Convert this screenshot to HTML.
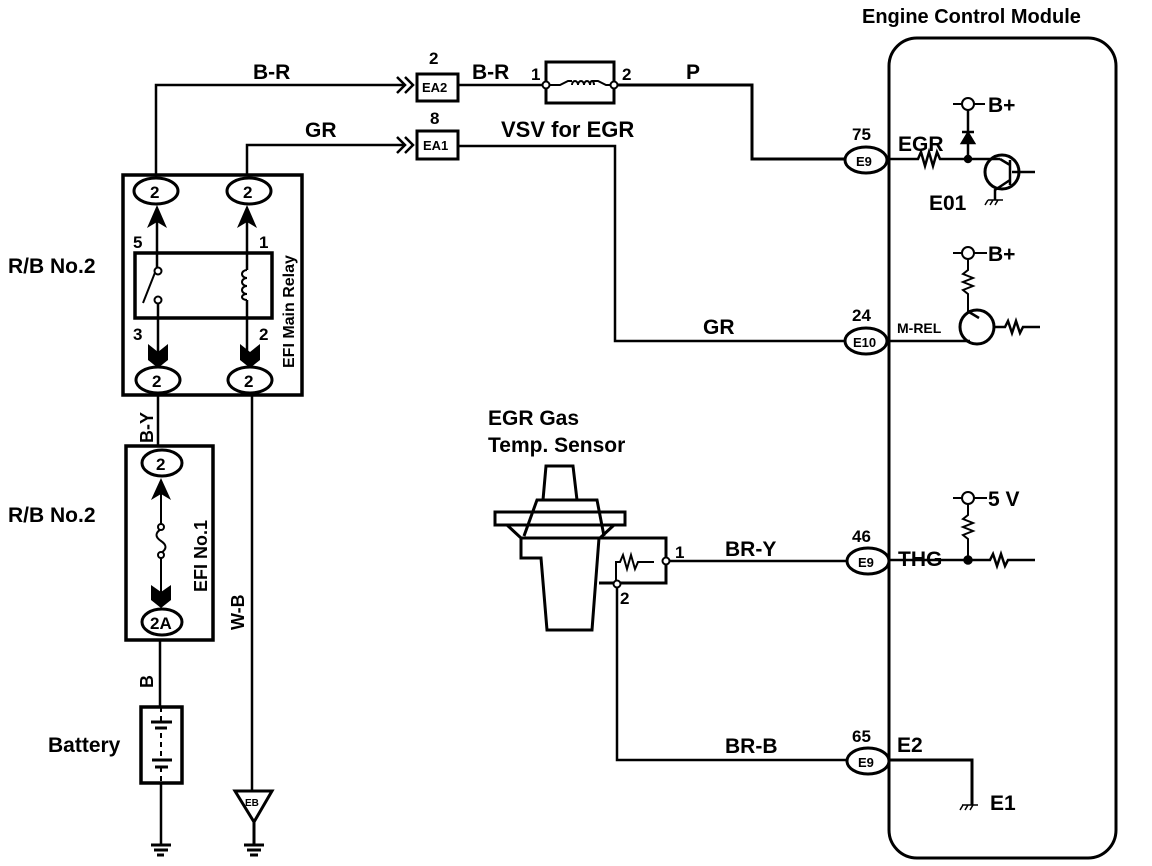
<!DOCTYPE html>
<html><head><meta charset="utf-8"><style>
html,body{margin:0;padding:0;background:#fff;}
svg{display:block;}
text{font-family:"Liberation Sans",sans-serif;font-weight:bold;fill:#000;}
</style></head><body>
<svg width="1152" height="866" viewBox="0 0 1152 866" xmlns="http://www.w3.org/2000/svg">
<g fill="none" stroke="#000" stroke-width="2.5">
<rect x="889" y="38" width="227" height="820" rx="28" stroke-width="3"/>
<path d="M156 176 V85 H405" stroke-width="2.5"/>
<path d="M397 77 l8 8 l-8 8 M405 77 l8 8 l-8 8"/>
<rect x="417" y="74" width="41" height="27" stroke-width="3"/>
<path d="M458 85 H546" stroke-width="2.5"/>
<path d="M546 85 V62 H614 V103 H546 Z" stroke-width="3"/>
<path d="M546 85 H560 l8 -4 h4 M592 81 h6 l8 4 h8" stroke-width="2"/>
<path d="M572 85 a3 4 0 0 1 6 0 a3 4 0 0 1 6 0 a3 4 0 0 1 6 0 a2 4 0 0 1 4 0" stroke-width="2"/>
<circle cx="546" cy="85" r="3.5" fill="#fff" stroke-width="2"/>
<circle cx="614" cy="85" r="3.5" fill="#fff" stroke-width="2"/>
<path d="M618 85 H752 V159 H846" stroke-width="3"/>
<ellipse cx="866" cy="160" rx="21" ry="13" stroke-width="3"/>
<path d="M247 176 V145 H405" stroke-width="2.5"/>
<path d="M397 137 l8 8 l-8 8 M405 137 l8 8 l-8 8"/>
<rect x="417" y="131" width="41" height="28" stroke-width="3"/>
<path d="M458 146 H615 V341 H846" stroke-width="2.5"/>
<ellipse cx="866" cy="341" rx="21" ry="13" stroke-width="3"/>
<rect x="123" y="175" width="179" height="220" stroke-width="3.5"/>
<ellipse cx="156" cy="191" rx="22" ry="13" stroke-width="3"/>
<ellipse cx="249" cy="191" rx="22" ry="13" stroke-width="3"/>
<ellipse cx="158" cy="380" rx="22" ry="13" stroke-width="3"/>
<ellipse cx="250" cy="380" rx="22" ry="13" stroke-width="3"/>
<rect x="135" y="253" width="137" height="65" stroke-width="3.5"/>
<path d="M157 218 V270 M158 300 V355 M247 218 V270 M247 300 V355" stroke-width="2.5"/>
<path d="M156 270 L143 303" stroke-width="2"/>
<circle cx="158" cy="271" r="3.5" fill="#fff" stroke-width="2"/>
<circle cx="158" cy="300" r="3.5" fill="#fff" stroke-width="2"/>
<path d="M247 270 a5 4 0 0 0 0 8 a5 4 0 0 0 0 8 a5 4 0 0 0 0 8 a5 3 0 0 0 0 6" stroke-width="2"/>
<path d="M158 395 V447" stroke-width="2.5"/>
<rect x="126" y="446" width="87" height="194" stroke-width="3.5"/>
<ellipse cx="162" cy="463" rx="20" ry="13" stroke-width="3"/>
<ellipse cx="162" cy="622" rx="20" ry="13" stroke-width="3"/>
<path d="M161 490 V525 M161 555 V598" stroke-width="2"/>
<path d="M161 529 c-6 4 -6 8 0 12 c6 4 6 8 0 12" stroke-width="2"/>
<circle cx="161" cy="527" r="3" fill="#fff" stroke-width="2"/>
<circle cx="161" cy="555" r="3" fill="#fff" stroke-width="2"/>
<path d="M160 640 V707 M161 783 V845" stroke-width="2.5"/>
<rect x="141" y="707" width="41" height="76" stroke-width="3.5"/>
<path d="M151 722 H172 M155 728 H167 M152 760 H172 M155 767 H168" stroke-width="3"/>
<path d="M161 707 V722 M161 733 V756 M161 767 V783" stroke-width="2" stroke-dasharray="5 4"/>
<path d="M151 845 H171 M154 850 H168 M157 855 H164" stroke-width="3"/>
<path d="M252 393 V791" stroke-width="2.5"/>
<path d="M235 791 H272 L254 822 Z" stroke-width="3"/>
<path d="M254 822 V845 M244 845 H264 M247 850 H261 M250 855 H258" stroke-width="3"/>
<path d="M543 500 L546 466 H573 L577 500 Z" stroke-width="3"/>
<path d="M524 536 L537 500 H597 L604 536" stroke-width="3"/>
<rect x="495" y="512" width="130" height="13" stroke-width="3"/>
<path d="M507 525 L521 538 H600 L614 525" stroke-width="3"/>
<path d="M521 538 V558 H541 L547 630 H592 L599 538" stroke-width="3"/>
<path d="M599 538 H666 V583 H599" stroke-width="3"/>
<path d="M616 583 V562 h4 l3 -7 l4 14 l4 -14 l4 14 l3 -7 h16" stroke-width="2"/>
<circle cx="666" cy="561" r="3.5" fill="#fff" stroke-width="2"/>
<circle cx="617" cy="584" r="3.5" fill="#fff" stroke-width="2"/>
<path d="M670 561 H846" stroke-width="2.5"/>
<path d="M617 588 V760 H846" stroke-width="2.5"/>
<ellipse cx="868" cy="561" rx="21" ry="13" stroke-width="3"/>
<ellipse cx="868" cy="761" rx="21" ry="13" stroke-width="3"/>
<path d="M889 159 H918 l3 -7 l4 14 l4 -14 l4 14 l4 -14 l3 7 H1000" stroke-width="2.5"/>
<path d="M968 159 V110" stroke-width="2.5"/>
<path d="M962 132 H974 M968 133 L962 143 H974 Z" stroke-width="2.5" fill="#000"/>
<circle cx="968" cy="104" r="6" fill="#fff" stroke-width="2"/>
<path d="M953 104 H962 M974 104 H985" stroke-width="2"/>
<circle cx="968" cy="159" r="3" fill="#000"/>
<circle cx="1002" cy="172" r="17" stroke-width="3"/>
<path d="M1010 160 V185 M1012 172 H1035 M1000 159 L1010 165 M1010 180 L995 190 V200" stroke-width="2.5"/>
<path d="M988 200 H1003 M988 200 l-3 5 M993 200 l-3 5 M998 200 l-3 5" stroke-width="1.5"/>
<circle cx="968" cy="253" r="6" fill="#fff" stroke-width="2"/>
<path d="M953 253 H962 M974 253 H987" stroke-width="2"/>
<path d="M968 259 V270 l-5 4 l10 4 l-10 4 l10 4 l-10 4 l5 4 V312" stroke-width="2"/>
<circle cx="977" cy="327" r="17" stroke-width="3"/>
<path d="M889 341 H970 M994 327 H1005 l3 -6 l4 12 l4 -12 l4 12 l3 -6 H1040 M969 312 l10 6" stroke-width="2.5"/>
<circle cx="968" cy="498" r="6" fill="#fff" stroke-width="2"/>
<path d="M953 498 H962 M974 498 H987" stroke-width="2"/>
<path d="M968 504 V515 l-5 4 l10 4 l-10 4 l10 4 l-10 4 l5 4 V560" stroke-width="2"/>
<path d="M889 560 H990 l3 -6 l4 12 l4 -12 l4 12 l3 -6 H1035" stroke-width="2.5"/>
<circle cx="968" cy="560" r="3.5" fill="#000"/>
<path d="M889 760 H972 V805" stroke-width="3"/>
<path d="M962 805 H978 M963 805 l-3 5 M968 805 l-3 5 M973 805 l-3 5" stroke-width="1.5"/>
</g>
<g fill="#000">
<path d="M147 228 L157 205 L167 228 L157 222 Z"/>
<path d="M237 228 L247 205 L257 228 L247 222 Z"/>
<path d="M148 344 L158 352 L168 344 L168 360 L158 368 L148 360 Z"/>
<path d="M240 344 L250 352 L260 344 L260 360 L250 368 L240 360 Z"/>
<path d="M151 500 L161 478 L171 500 L161 494 Z"/>
<path d="M151 585 L161 592 L171 585 L171 600 L161 608 L151 600 Z"/>
</g>
<g font-size="21">
<text x="862" y="23" font-size="20">Engine Control Module</text>
<text x="253" y="79">B-R</text>
<text x="472" y="79">B-R</text>
<text x="305" y="137">GR</text>
<text x="501" y="137" font-size="22">VSV for EGR</text>
<text x="686" y="79">P</text>
<text x="703" y="334">GR</text>
<text x="8" y="273">R/B No.2</text>
<text x="8" y="522">R/B No.2</text>
<text x="48" y="752">Battery</text>
<text x="488" y="425">EGR Gas</text>
<text x="488" y="452">Temp. Sensor</text>
<text x="725" y="556">BR-Y</text>
<text x="725" y="753">BR-B</text>
<text x="898" y="151">EGR</text>
<text x="929" y="210">E01</text>
<text x="898" y="566">THG</text>
<text x="897" y="752">E2</text>
<text x="990" y="810">E1</text>
<text x="988" y="112">B+</text>
<text x="988" y="261">B+</text>
<text x="988" y="506">5 V</text>
</g>
<g font-size="17">
<text x="429" y="64">2</text><text x="430" y="124">8</text>
<text x="531" y="80">1</text><text x="622" y="80">2</text>
<text x="852" y="140">75</text><text x="852" y="321">24</text>
<text x="852" y="542">46</text><text x="852" y="742">65</text>
<text x="133" y="248">5</text><text x="259" y="248">1</text>
<text x="133" y="340">3</text><text x="259" y="340">2</text>
<text x="675" y="558">1</text><text x="620" y="604">2</text>
<text x="150" y="198">2</text><text x="243" y="198">2</text>
<text x="152" y="387">2</text><text x="244" y="387">2</text>
<text x="156" y="470">2</text><text x="150" y="629">2A</text>
</g>
<g font-size="13">
<text x="422" y="92">EA2</text><text x="423" y="150">EA1</text>
<text x="856" y="166">E9</text><text x="853" y="347">E10</text>
<text x="858" y="567">E9</text><text x="858" y="767">E9</text>
<text x="897" y="333" font-size="14">M-REL</text>
<text x="245" y="806" font-size="10">EB</text>
</g>
<g font-size="16">
<text transform="translate(294,368) rotate(-90)">EFI Main Relay</text>
<text transform="translate(207,592) rotate(-90)" font-size="18">EFI No.1</text>
<text transform="translate(153,443) rotate(-90)" font-size="18">B-Y</text>
<text transform="translate(153,688) rotate(-90)" font-size="18">B</text>
<text transform="translate(244,630) rotate(-90)" font-size="18">W-B</text>
</g>
</svg>
</body></html>
